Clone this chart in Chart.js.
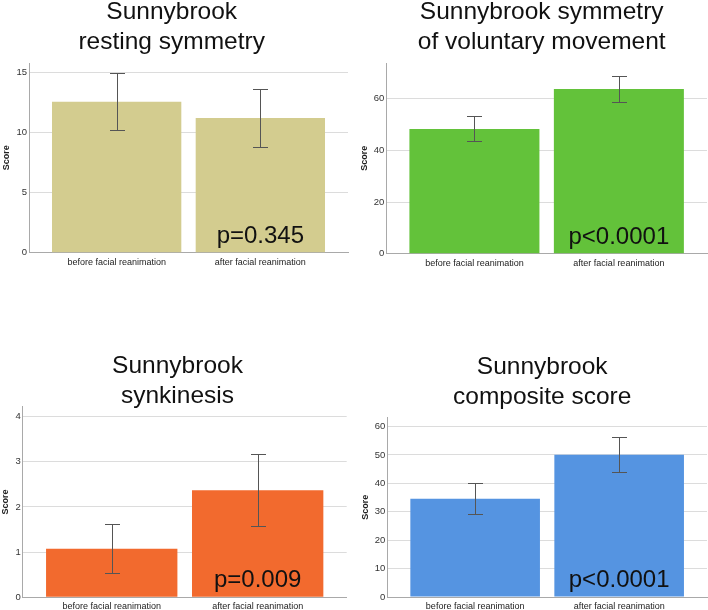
<!DOCTYPE html>
<html><head><meta charset="utf-8">
<script src="https://cdn.jsdelivr.net/npm/chart.js@4.4.1/dist/chart.umd.min.js"></script>
<style>
html,body{margin:0;padding:0;background:#fff;width:708px;height:610px;overflow:hidden;position:relative;}
canvas{position:absolute;}
</style></head><body>
<canvas id="c1" width="354" height="275" style="left:0;top:0"></canvas>
<canvas id="c2" width="354" height="275" style="left:354px;top:0"></canvas>
<canvas id="c3" width="354" height="300" style="left:0;top:310px"></canvas>
<canvas id="c4" width="354" height="300" style="left:354px;top:310px"></canvas>
<script>
// ---- data ----
const categories = ['before facial reanimation', 'after facial reanimation'];

const restMean = [12.58, 11.22];
const restLow  = [10.2, 8.83];
const restHigh = [15.0, 13.67];

const volMean = [48.3, 63.7];
const volLow  = [43.7, 58.7];
const volHigh = [53.1, 68.8];

const synMean = [1.075, 2.37];
const synLow  = [0.545, 1.58];
const synHigh = [1.615, 3.18];

const compMean = [34.6, 50.1];
const compLow  = [29.1, 44.1];
const compHigh = [40.1, 56.4];

const restTicks = [0, 5, 10, 15];
const volTicks  = [0, 20, 40, 60];
const synTicks  = [0, 1, 2, 3, 4];
const compTicks = [0, 10, 20, 30, 40, 50, 60];

const panelTitles = [
  ['Sunnybrook', 'resting symmetry'],
  ['Sunnybrook symmetry', 'of voluntary movement'],
  ['Sunnybrook', 'synkinesis'],
  ['Sunnybrook', 'composite score']
];
const pValues = ['p=0.345', 'p<0.0001', 'p=0.009', 'p<0.0001'];
const yAxisTitle = 'Score';

// ---- drawing ----
const FONT = '"Liberation Sans", Arial, Helvetica, sans-serif';
Chart.defaults.font.family = FONT;

function errorBarPlugin(low, high) {
  return {
    id: 'errorBars',
    afterDatasetsDraw(chart) {
      const {ctx, scales: {x, y}} = chart;
      ctx.save();
      ctx.strokeStyle = '#555';
      ctx.lineWidth = 1;
      low.forEach((lo, i) => {
        const px = Math.round(x.getPixelForValue(i)) + 0.5;
        const y1 = Math.round(y.getPixelForValue(lo)) + 0.5;
        const y2 = Math.round(y.getPixelForValue(high[i])) + 0.5;
        ctx.beginPath();
        ctx.moveTo(px, y1); ctx.lineTo(px, y2);
        ctx.moveTo(px - 7.5, y1); ctx.lineTo(px + 7.5, y1);
        ctx.moveTo(px - 7.5, y2); ctx.lineTo(px + 7.5, y2);
        ctx.stroke();
      });
      ctx.restore();
    }
  };
}

function textPlugin(titleLines, titleX, titleBase, pText) {
  return {
    id: 'panelText',
    afterDraw(chart) {
      const {ctx, scales: {x, y}} = chart;
      ctx.save();
      ctx.fillStyle = '#111';
      ctx.font = '24.5px ' + FONT;
      ctx.textAlign = 'center';
      ctx.textBaseline = 'alphabetic';
      titleLines.forEach((t, i) => ctx.fillText(t, titleX, titleBase + i * 30));
      ctx.font = '24px ' + FONT;
      ctx.fillText(pText, x.getPixelForValue(1), y.getPixelForValue(0) - 10);
      ctx.restore();
    }
  };
}

function makePanel(id, mean, low, high, ticks, yMax, color, idx, g) {
  const canvas = document.getElementById(id);
  const W = canvas.width, H = canvas.height;
  new Chart(canvas, {
    type: 'bar',
    data: {
      datasets: [{
        data: mean.map((v, i) => ({x: i, y: v})),
        backgroundColor: color,
        borderWidth: 0,
        barPercentage: 0.9,
        categoryPercentage: 1
      }]
    },
    options: {
      responsive: false,
      devicePixelRatio: 1,
      animation: false,
      layout: {padding: {top: g.top, right: W - g.right, left: 0, bottom: 0}},
      plugins: {legend: {display: false}, tooltip: {enabled: false}},
      scales: {
        x: {
          type: 'linear', min: -0.61, max: 1.61, offset: false,
          afterBuildTicks: s => { s.ticks = [0, 1].map(v => ({value: v})); },
          afterFit: s => { s.height = H - g.bottom; },
          ticks: {callback: v => categories[v], font: {size: 9}, color: '#222', padding: 4, autoSkip: false, maxRotation: 0},
          grid: {display: false, drawTicks: false, offset: false},
          border: {display: true, color: '#a9a9a9', width: 1}
        },
        y: {
          type: 'linear', min: 0, max: yMax,
          afterBuildTicks: s => { s.ticks = ticks.map(v => ({value: v})); },
          afterFit: s => { s.width = g.left; },
          ticks: {font: {size: 9.5}, color: '#333', padding: 2},
          grid: {color: '#dcdcdc', drawTicks: false},
          border: {display: true, color: '#a9a9a9', width: 1},
          title: {display: true, text: yAxisTitle, font: {size: 9, weight: 'bold'}, color: '#222', padding: {top: g.yt, bottom: 0}}
        }
      }
    },
    plugins: [errorBarPlugin(low, high), textPlugin(panelTitles[idx], g.tx, g.tb, pValues[idx])]
  });
}

makePanel('c1', restMean, restLow, restHigh, restTicks, 15.8, '#d3cc8f', 0,
  {left: 29, right: 348, top: 63, bottom: 252.7, yt: 1.3, tx: 171.7, tb: 19});
makePanel('c2', volMean, volLow, volHigh, volTicks, 73.8, '#63c23a', 1,
  {left: 32.3, right: 353, top: 63, bottom: 253.7, yt: 5.6, tx: 187.7, tb: 19.3});
makePanel('c3', synMean, synLow, synHigh, synTicks, 4.22, '#f26a2e', 2,
  {left: 22.7, right: 346.7, top: 96.7, bottom: 287.3, yt: 0, tx: 177.5, tb: 63.3});
makePanel('c4', compMean, compLow, compHigh, compTicks, 63.1, '#5594e1', 3,
  {left: 33.3, right: 353, top: 107.7, bottom: 287, yt: 6.3, tx: 188.2, tb: 64});
</script>
</body></html>
